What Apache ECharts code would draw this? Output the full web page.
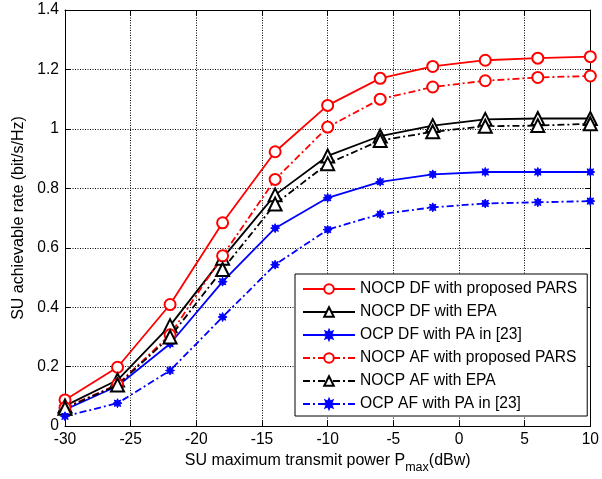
<!DOCTYPE html>
<html>
<head>
<meta charset="utf-8">
<script src="https://cdn.jsdelivr.net/npm/echarts@6/dist/echarts.min.js"></script>
<style>
html,body{margin:0;padding:0;background:#fff;}
#chart{width:602px;height:479px;}
</style>
</head>
<body>
<div id="chart"></div>
<script>
// ---- data ----
var xValues = [-30, -26, -22, -18, -14, -10, -6, -2, 2, 6, 10];
var nocpDfPars = [0.088, 0.198, 0.409, 0.684, 0.923, 1.079, 1.170, 1.210, 1.231, 1.238, 1.243];
var nocpDfEpa  = [0.068, 0.155, 0.338, 0.565, 0.778, 0.909, 0.976, 1.011, 1.032, 1.035, 1.035];
var ocpDfPa    = [0.055, 0.135, 0.277, 0.486, 0.666, 0.768, 0.822, 0.847, 0.855, 0.855, 0.855];
var nocpAfPars = [0.062, 0.140, 0.307, 0.573, 0.830, 1.006, 1.100, 1.141, 1.162, 1.173, 1.178];
var nocpAfEpa  = [0.060, 0.138, 0.300, 0.527, 0.747, 0.883, 0.961, 0.990, 1.009, 1.011, 1.017];
var ocpAfPa    = [0.033, 0.077, 0.187, 0.367, 0.543, 0.661, 0.713, 0.736, 0.749, 0.753, 0.757];
var seriesNames = [
  'NOCP DF with proposed PARS',
  'NOCP DF with EPA',
  'OCP DF with PA in [23]',
  'NOCP AF with proposed PARS',
  'NOCP AF with EPA',
  'OCP AF with PA in [23]'
];
var xTitle = '{a|SU maximum transmit power P}{b|max}{a|(dBw)}';
var yTitle = 'SU achievable rate (bit/s/Hz)';

// ---- styling helpers ----
var FONT = 'Liberation Sans, Arial, sans-serif';
var dashDot = [7, 3, 2, 3];

function starPath() {
  var pts = [];
  var n = 8;
  for (var i = 0; i < n * 2; i++) {
    var r = (i % 2 === 0) ? 10 : 5.5;
    var a = Math.PI * i / n - Math.PI / 2;
    pts.push((10 + r * Math.cos(a)).toFixed(2) + ' ' + (10 + r * Math.sin(a)).toFixed(2));
  }
  return 'path://M' + pts.join(' L') + ' Z';
}
var STAR = starPath();

function pairs(ys) {
  return xValues.map(function (x, i) { return [x, ys[i]]; });
}

function mkSeries(name, ys, color, dashed, symbol, symbolSize) {
  return {
    name: name,
    type: 'line',
    data: pairs(ys),
    clip: false,
    symbol: symbol,
    symbolSize: symbolSize,
    showAllSymbol: true,
    lineStyle: { color: color, width: 1.8, type: dashed ? dashDot : 'solid' },
    itemStyle: { color: color, borderColor: color, borderWidth: symbol === STAR ? 1 : 1.8 },
    emphasis: { disabled: true },
    animation: false
  };
}

var chart = echarts.init(document.getElementById('chart'), null, { renderer: 'canvas' });

var axisCommon = {
  type: 'value',
  axisLine: { show: true, onZero: false, lineStyle: { color: '#000', width: 1 } },
  axisTick: { show: true, inside: true, length: 5, lineStyle: { color: '#000' } }
};

chart.setOption({
  backgroundColor: '#fff',
  animation: false,
  textStyle: { fontFamily: FONT },
  grid: { left: 65, right: 6, top: 10, bottom: 51, show: false },
  legend: {
    orient: 'vertical',
    left: 295,
    top: 274,
    data: seriesNames,
    itemWidth: 52,
    itemHeight: 12,
    itemGap: 7,
    padding: [7, 10, 4, 7],
    backgroundColor: '#fff',
    borderColor: '#000',
    borderWidth: 1,
    borderRadius: 0,
    selectedMode: false,
    textStyle: { color: '#000', fontSize: 15.6, fontFamily: FONT },
    z: 10
  },
  xAxis: [
    Object.assign({}, axisCommon, {
      min: -30, max: 10, interval: 5,
      position: 'bottom',
      axisLabel: { color: '#000', fontSize: 15.6, fontFamily: FONT, margin: 6 },
      splitLine: { show: true, lineStyle: { color: '#000', type: [1, 1.5], width: 1 } },
      name: xTitle,
      nameLocation: 'middle',
      nameGap: 21,
      nameTextStyle: {
        color: '#000',
        rich: {
          a: { fontSize: 16, color: '#000', fontFamily: FONT },
          b: { fontSize: 12.5, color: '#000', fontFamily: FONT, padding: [13, 0, 0, 0] }
        }
      }
    }),
    Object.assign({}, axisCommon, {
      min: -30, max: 10, interval: 5,
      position: 'top',
      axisLabel: { show: false },
      splitLine: { show: false }
    })
  ],
  yAxis: [
    Object.assign({}, axisCommon, {
      min: 0, max: 1.4, interval: 0.2,
      position: 'left',
      axisLabel: { color: '#000', fontSize: 15.6, fontFamily: FONT, margin: 6 },
      splitLine: { show: true, lineStyle: { color: '#000', type: [1, 1.5], width: 1 } },
      name: yTitle,
      nameLocation: 'middle',
      nameGap: 36,
      nameTextStyle: { color: '#000', fontSize: 16, fontFamily: FONT }
    }),
    Object.assign({}, axisCommon, {
      min: 0, max: 1.4, interval: 0.2,
      position: 'right',
      axisLabel: { show: false },
      splitLine: { show: false }
    })
  ],
  series: [
    mkSeries(seriesNames[0], nocpDfPars, '#ff0000', false, 'emptyCircle', 11),
    mkSeries(seriesNames[1], nocpDfEpa, '#000000', false, 'emptyTriangle', 13),
    mkSeries(seriesNames[2], ocpDfPa, '#0000ff', false, STAR, 9),
    mkSeries(seriesNames[3], nocpAfPars, '#ff0000', true, 'emptyCircle', 11),
    mkSeries(seriesNames[4], nocpAfEpa, '#000000', true, 'emptyTriangle', 13),
    mkSeries(seriesNames[5], ocpAfPa, '#0000ff', true, STAR, 9)
  ]
});
</script>
</body>
</html>
